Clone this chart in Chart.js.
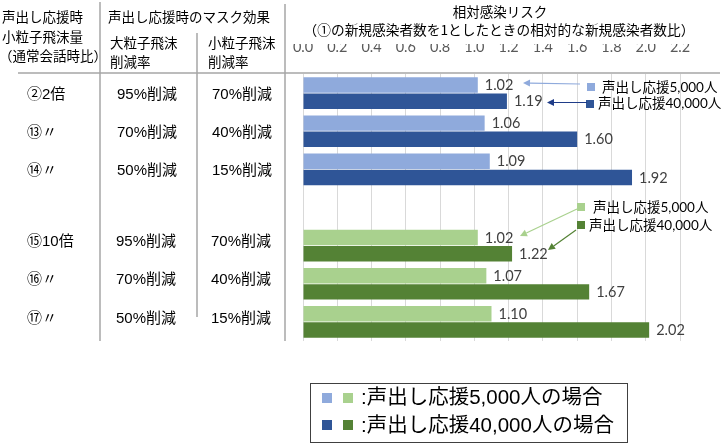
<!DOCTYPE html>
<html><head><meta charset="utf-8">
<script src="https://cdn.jsdelivr.net/npm/chart.js@4/dist/chart.umd.min.js"></script>
<style>html,body{margin:0;padding:0;background:#fff;} #c{display:block;}</style>
</head><body>
<canvas id="c" width="725" height="445"></canvas>
<script>
// ---- data ----
const categories = ['②2倍', '⑬〃', '⑭〃', '', '⑮10倍', '⑯〃', '⑰〃'];
const largeDropletCut = ['95%削減', '70%削減', '50%削減', '', '95%削減', '70%削減', '50%削減'];
const smallDropletCut = ['70%削減', '40%削減', '15%削減', '', '70%削減', '40%削減', '15%削減'];
const risk5000 = [1.02, 1.06, 1.09, null, 1.02, 1.07, 1.10];
const risk40000 = [1.19, 1.60, 1.92, null, 1.22, 1.67, 2.02];
const axisMin = 0, axisMax = 2.2, axisStep = 0.2;
const seriesNames = ['声出し応援5,000人', '声出し応援40,000人'];
const legendTexts = [':声出し応援5,000人の場合', ':声出し応援40,000人の場合'];
const headerTexts = {
  left: ['声出し応援時', '小粒子飛沫量', '（通常会話時比）'],
  mask: '声出し応援時のマスク効果',
  large: ['大粒子飛沫', '削減率'],
  small: ['小粒子飛沫', '削減率'],
  title: ['相対感染リスク', '（①の新規感染者数を1としたときの相対的な新規感染者数比）']
};

// ---- styles ----
const C = {
  lb: '#8FAADC', db: '#2F5597', lg: '#A9D18E', dg: '#548235',
  grid: '#D9D9D9', rule: '#A6A6A6', text: '#000000', label: '#404040'
};
const JP = '"Noto Sans CJK JP"';
const colorsFor = (light) => categories.map((c, i) => i < 3 ? (light ? C.lb : C.db) : (light ? C.lg : C.dg));

function arrow(ctx, x1, y1, x2, y2, color) {
  ctx.save();
  ctx.strokeStyle = color; ctx.fillStyle = color; ctx.lineWidth = 1.2;
  const a = Math.atan2(y2 - y1, x2 - x1);
  const L = 7, W = 3.5;
  const bx = x2 - L * Math.cos(a), by = y2 - L * Math.sin(a);
  ctx.beginPath(); ctx.moveTo(x1, y1); ctx.lineTo(bx, by); ctx.stroke();
  ctx.beginPath();
  ctx.moveTo(x2, y2);
  ctx.lineTo(bx + W * Math.sin(a), by - W * Math.cos(a));
  ctx.lineTo(bx - W * Math.sin(a), by + W * Math.cos(a));
  ctx.closePath(); ctx.fill();
  ctx.restore();
}

const decor = {
  id: 'decor',
  beforeDraw(chart) {
    const ctx = chart.ctx;
    ctx.save(); ctx.fillStyle = '#fff'; ctx.fillRect(0, 0, chart.width, chart.height); ctx.restore();
  },
  afterDraw(chart) {
    const ctx = chart.ctx;
    const ys = chart.scales.y;
    const ca = chart.chartArea;
    ctx.save();
    // table rules
    ctx.strokeStyle = C.rule; ctx.lineWidth = 1.5;
    ctx.beginPath();
    ctx.moveTo(18, 73); ctx.lineTo(720, 73);
    ctx.moveTo(100, 2); ctx.lineTo(100, ca.bottom);
    ctx.moveTo(197, 33); ctx.lineTo(197, 317);
    ctx.moveTo(285, 4); ctx.lineTo(285, ca.bottom);
    ctx.stroke();

    // header texts
    ctx.fillStyle = C.text; ctx.textBaseline = 'middle'; ctx.textAlign = 'left';
    ctx.font = '13.5px ' + JP;
    ctx.fillText(headerTexts.left[0], 2, 17);
    ctx.fillText(headerTexts.left[1], 2, 37);
    ctx.fillText(headerTexts.left[2], -1, 56);
    ctx.fillText(headerTexts.mask, 108, 17);
    ctx.fillText(headerTexts.large[0], 110, 43);
    ctx.fillText(headerTexts.large[1], 110, 62);
    ctx.fillText(headerTexts.small[0], 208, 43);
    ctx.fillText(headerTexts.small[1], 208, 62);
    ctx.textAlign = 'center';
    ctx.fillText(headerTexts.title[0], 500, 12);
    ctx.font = '13.7px ' + JP;
    ctx.fillText(headerTexts.title[1], 499, 30);

    // row texts
    ctx.font = '15px "Liberation Sans", ' + JP;
    categories.forEach((cat, i) => {
      if (!cat) return;
      const y = ys.getPixelForValue(i) + (i < 3 ? 1.5 : -3.5);
      ctx.textAlign = 'left';
      ctx.fillText(cat, 27, y);
      ctx.textAlign = 'center';
      ctx.fillText(largeDropletCut[i], i < 3 ? 147 : 146, y);
      ctx.fillText(smallDropletCut[i], i < 3 ? 242 : 241, y);
    });

    // value labels
    ctx.font = '14.5px Lato';
    ctx.fillStyle = C.label; ctx.textAlign = 'left';
    chart.data.datasets.forEach((ds, di) => {
      chart.getDatasetMeta(di).data.forEach((el, i) => {
        if (ds.data[i] == null) return;
        ctx.fillText(ds.data[i].toFixed(2), el.x + 7, el.y + 0.5);
      });
    });

    // callout annotations
    ctx.font = '13.5px Lato, ' + JP;
    ctx.fillStyle = C.lb; ctx.fillRect(587, 83, 8, 8);
    ctx.fillStyle = C.db; ctx.fillRect(586, 100, 8, 8);
    ctx.fillStyle = C.lg; ctx.fillRect(577, 203, 8, 8);
    ctx.fillStyle = C.dg; ctx.fillRect(577, 221, 8, 8);
    ctx.fillStyle = C.text;
    ctx.fillText(seriesNames[0], 602, 88);
    ctx.fillText(seriesNames[1], 598, 104);
    ctx.fillText(seriesNames[0], 593, 208);
    ctx.fillText(seriesNames[1], 589, 226);
    arrow(ctx, 580, 84, 523, 83, C.lb);
    arrow(ctx, 587, 102.5, 547, 102.5, '#1F3C88');
    arrow(ctx, 577, 209, 520, 236, C.lg);
    arrow(ctx, 576, 230, 548, 250, C.dg);

    // legend box
    ctx.strokeStyle = '#404040'; ctx.lineWidth = 1;
    ctx.strokeRect(310.5, 383.5, 317, 59);
    ctx.fillStyle = C.lb; ctx.fillRect(322, 393, 10, 10);
    ctx.fillStyle = C.lg; ctx.fillRect(343, 393, 10, 10);
    ctx.fillStyle = C.db; ctx.fillRect(322, 420, 10, 10);
    ctx.fillStyle = C.dg; ctx.fillRect(343, 420, 10, 10);
    ctx.fillStyle = C.text;
    ctx.font = '20.5px "Liberation Sans", ' + JP;
    ctx.fillText(legendTexts[0], 361, 398);
    ctx.fillText(legendTexts[1], 361, 426);
    ctx.restore();
  }
};

new Chart(document.getElementById('c'), {
  type: 'bar',
  data: {
    labels: categories,
    datasets: [
      { label: seriesNames[0], data: risk5000, backgroundColor: colorsFor(true) },
      { label: seriesNames[1], data: risk40000, backgroundColor: colorsFor(false) }
    ]
  },
  options: {
    indexAxis: 'y',
    responsive: false,
    animation: false,
    events: [],
    layout: { padding: { left: 303, right: 45, top: 44, bottom: 104 } },
    datasets: { bar: { categoryPercentage: 0.85, barPercentage: 0.95 } },
    plugins: { legend: { display: false }, tooltip: { enabled: false } },
    scales: {
      x: {
        position: 'top', min: axisMin, max: axisMax,
        afterFit(axis) { axis.height = 30; },
        ticks: { stepSize: axisStep, padding: 18, color: '#595959', font: { family: 'Lato', size: 14.5 },
                 callback: (v) => Number(v).toFixed(1) },
        grid: { color: C.grid, drawTicks: false, lineWidth: 1 },
        border: { display: false }
      },
      y: { display: false }
    }
  },
  plugins: [decor]
});
</script>
</body></html>
